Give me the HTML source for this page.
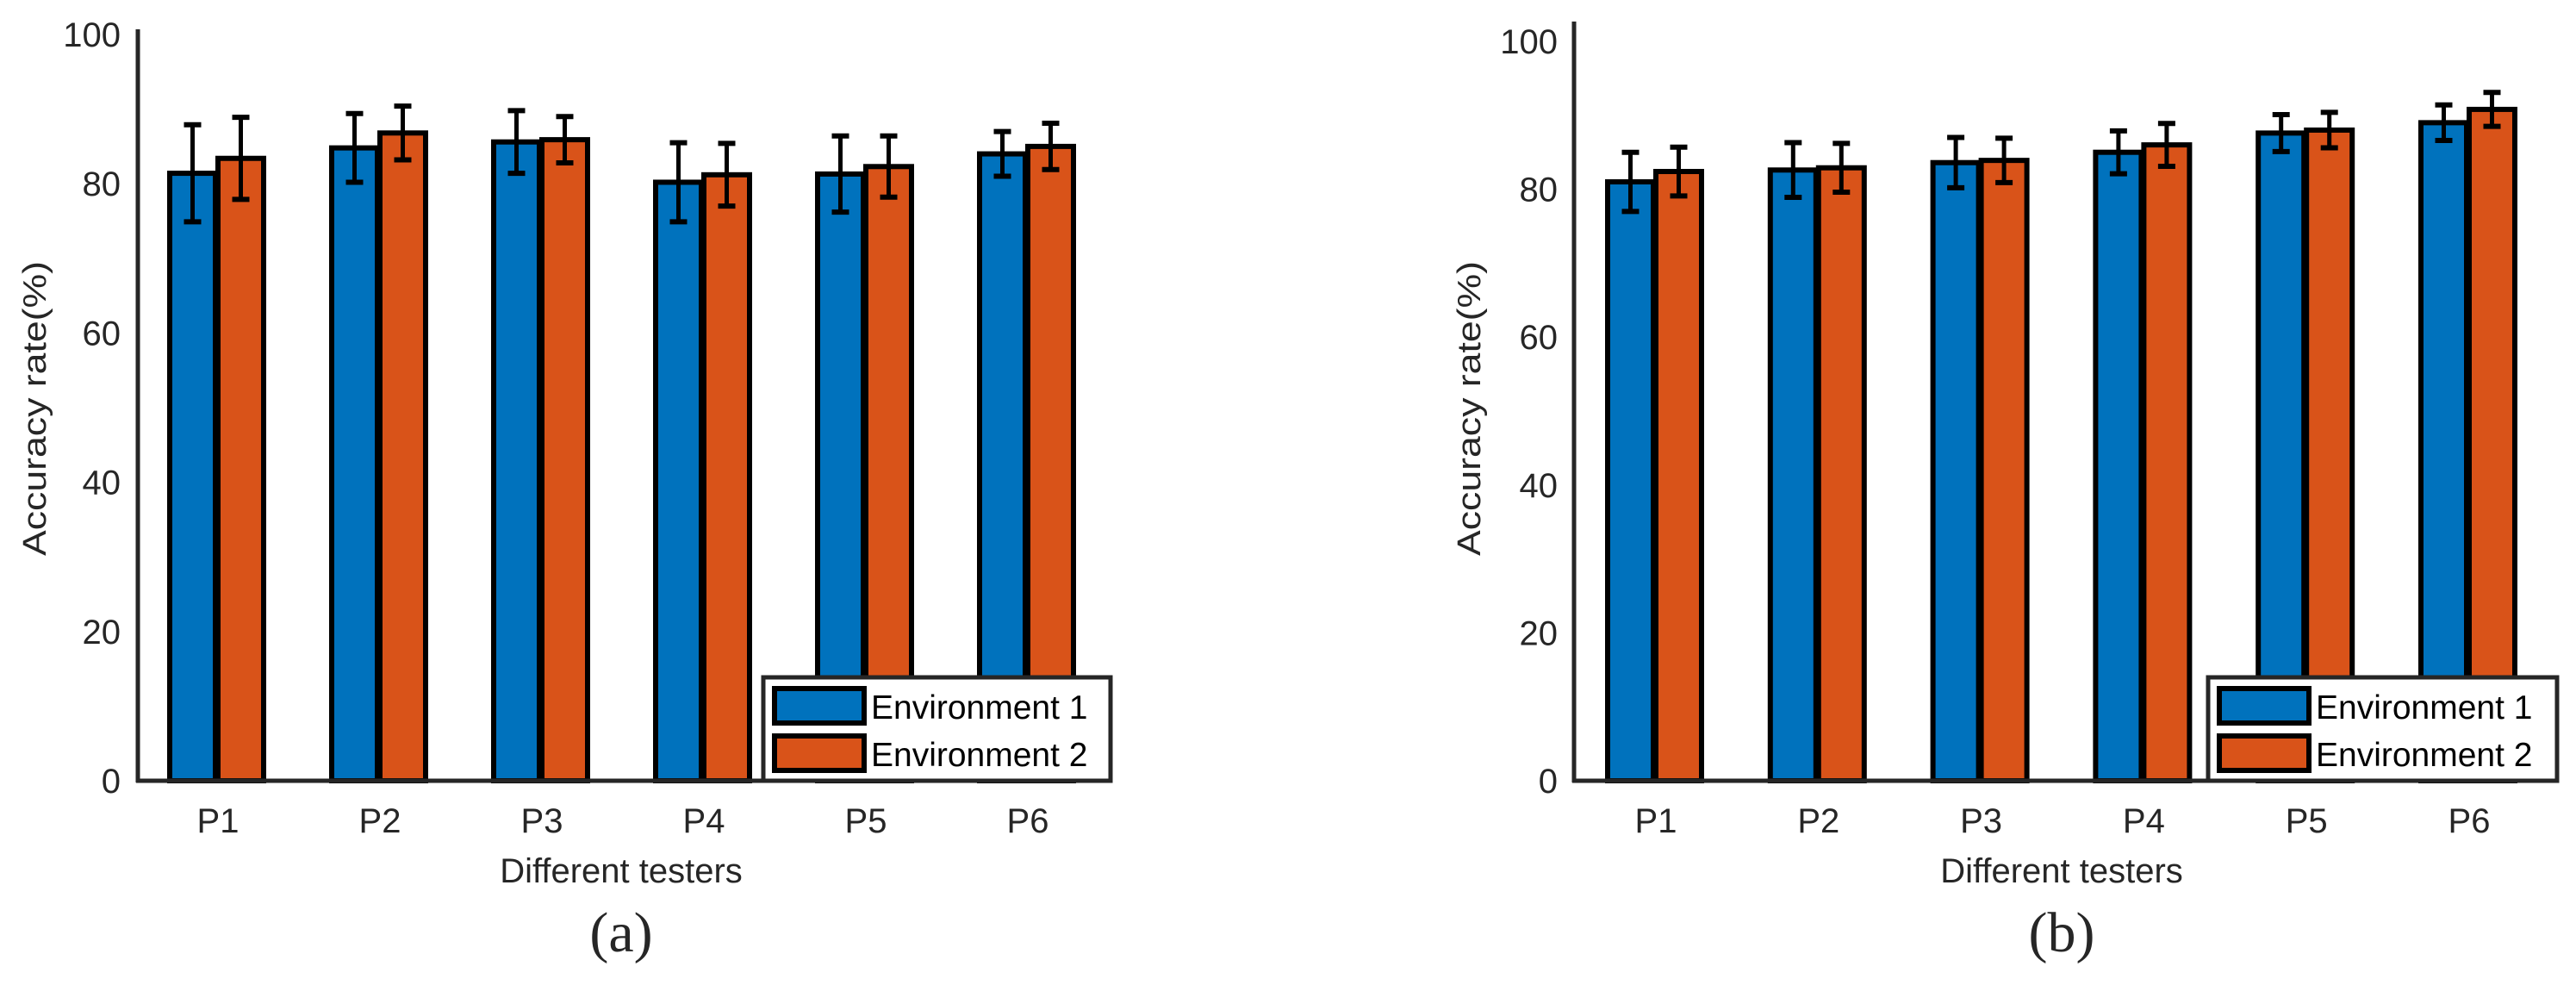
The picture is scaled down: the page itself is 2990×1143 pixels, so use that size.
<!DOCTYPE html>
<html><head><meta charset="utf-8"><style>
html,body{margin:0;padding:0;background:#fff;}
svg{display:block;font-family:"Liberation Sans",Arial,sans-serif;}
</style></head><body>
<svg id="chart" width="2990" height="1143" viewBox="0 0 2990 1143" xmlns="http://www.w3.org/2000/svg"></svg>
<script>
const categories = ["P1","P2","P3","P4","P5","P6"];
const yTicks = [0,20,40,60,80,100];
const seriesNames = ["Environment 1","Environment 2"];
const aEnv1 = [81.4,84.8,85.6,80.2,81.3,84.0];
const aEnv1Err = [6.5,4.6,4.2,5.3,5.1,3.0];
const aEnv2 = [83.4,86.8,85.9,81.2,82.3,85.0];
const aEnv2Err = [5.5,3.6,3.1,4.2,4.1,3.1];
const bEnv1 = [81.0,82.6,83.6,85.0,87.6,89.0];
const bEnv1Err = [4.0,3.7,3.4,2.9,2.5,2.4];
const bEnv2 = [82.4,82.9,83.9,86.0,88.0,90.8];
const bEnv2Err = [3.3,3.3,3.0,2.9,2.4,2.3];

const NS="http://www.w3.org/2000/svg";
const svg=document.getElementById('chart');
function mk(tag,attrs,parent){const e=document.createElementNS(NS,tag);for(const k in attrs)e.setAttribute(k,attrs[k]);(parent||svg).appendChild(e);return e;}
const colors=["#0072BD","#D95319"];

function panel(cfg){
  const g=mk('g',{});
  
  
  const y=v=>cfg.y0-(v/100)*(cfg.y0-cfg.y100);
  const xc=i=>cfg.x1+i*cfg.step;
  // bars
  const vals=[cfg.s1,cfg.s2], errs=[cfg.e1,cfg.e2];
  for(let s=0;s<2;s++){
    categories.forEach((c,i)=>{
      const cx=xc(i);
      const x0= s===0? cx-56 : cx;
      const r=mk('rect',{x:x0,y:y(vals[s][i]),width:53,height:y(0)-y(vals[s][i]),fill:colors[s],stroke:'#000','stroke-width':6},g);
      
      
    });
  }
  for(let s=0;s<2;s++){
    categories.forEach((c,i)=>{
      const ex= s===0? xc(i)-29.5 : xc(i)+26.5;
      const v=vals[s][i], e=errs[s][i];
      const eg=mk('g',{stroke:'#000','stroke-width':5},g);
      
      
      mk('line',{x1:ex,x2:ex,y1:y(v+e),y2:y(v-e)},eg);
      mk('line',{x1:ex-10,x2:ex+10,y1:y(v+e),y2:y(v+e),'stroke-width':6},eg);
      mk('line',{x1:ex-10,x2:ex+10,y1:y(v-e),y2:y(v-e),'stroke-width':6},eg);
    });
  }
  // axes
  const ya=mk('line',{x1:cfg.ax,x2:cfg.ax,y1:cfg.axTop,y2:cfg.y0+2,stroke:'#262626','stroke-width':5},g);
  
  
  const xa=mk('line',{x1:cfg.ax-2,x2:cfg.legX+cfg.legW,y1:cfg.y0,y2:cfg.y0,stroke:'#262626','stroke-width':5},g);
  
  
  yTicks.forEach(t=>{
    const tx=mk('text',{x:cfg.tickRight,y:y(t)+14,'text-anchor':'end','font-size':40,fill:'#262626'},g);
    tx.textContent=t;
    
    
  });
  categories.forEach((c,i)=>{
    const tx=mk('text',{x:xc(i),y:966,'text-anchor':'middle','font-size':40,fill:'#262626'},g);
    tx.textContent=c;
    
    
  });
  const yt=mk('text',{x:0,y:0,'text-anchor':'middle','font-size':38,fill:'#262626',textLength:342,lengthAdjust:'spacingAndGlyphs',transform:`translate(${cfg.titleX+13},474) rotate(-90)`},g);
  yt.textContent='Accuracy rate(%)';
  
  
  const xt=mk('text',{x:cfg.xTitleX,y:1024,'text-anchor':'middle','font-size':40,fill:'#262626'},g);
  xt.textContent='Different testers';
  
  
  const pl=mk('text',{x:cfg.xTitleX,y:1104,'text-anchor':'middle','font-size':66,fill:'#262626','font-family':'"Liberation Serif",serif'},g);
  pl.textContent=cfg.label;
  
  
  // legend
  const lg=mk('g',{},g);
  
  
  mk('rect',{x:cfg.legX,y:786,width:cfg.legW,height:120,fill:'#fff',stroke:'#262626','stroke-width':5},lg);
  seriesNames.forEach((n,k)=>{
    const eg=mk('g',{},lg);
    
    
    mk('rect',{x:cfg.legX+13,y:799+k*55,width:104,height:40,fill:colors[k],stroke:'#000','stroke-width':6},eg);
    const t=mk('text',{x:cfg.legX+125,y:834+k*55,'font-size':39,fill:'#000'},eg);
    t.textContent=n;
  });
}
panel({id:'panel-a',label:'(a)',s1:aEnv1,e1:aEnv1Err,s2:aEnv2,e2:aEnv2Err,x1:253,step:188,ax:160,axTop:34,y0:906,y100:40,tickRight:140,titleX:40,xTitleX:721,legX:886,legW:403});
panel({id:'panel-b',label:'(b)',s1:bEnv1,e1:bEnv1Err,s2:bEnv2,e2:bEnv2Err,x1:1922,step:188.8,ax:1827,axTop:25,y0:906,y100:48,tickRight:1808,titleX:1705,xTitleX:2393,legX:2563,legW:405});
</script>
</body></html>
